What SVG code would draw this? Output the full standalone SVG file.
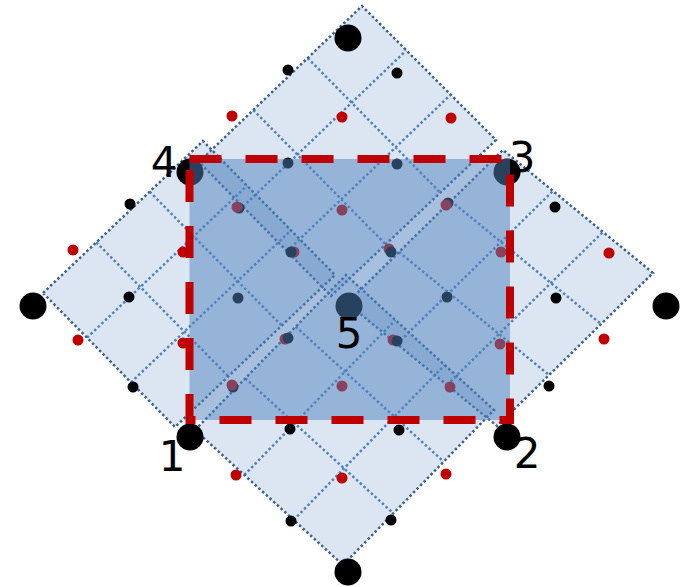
<svg xmlns="http://www.w3.org/2000/svg" width="688" height="587" viewBox="0 0 688 587">
<style>
.fill{fill:#4f81bd;fill-opacity:0.2;stroke:none}
.grid{fill:none;stroke:#4f81bd;stroke-width:2.5;stroke-dasharray:2.5 2.5}
.edge{fill:none;stroke:#3a6190;stroke-width:2.5;stroke-dasharray:2.5 2.5}
.big{fill:#000}
.blk{fill:#000}
.red{fill:#c00000}
.lbl{font-family:"DejaVu Sans",sans-serif;font-size:42px;fill:#000;text-anchor:middle}
</style>
<rect width="688" height="587" fill="#fff"/>
<g id="diamond-top">
<polygon class="fill" points="199,162 362,6 496,140 331,296"/>
<path class="grid" d="M253.33,110L385.33,244M307.67,58L439.67,192M243,206.67L406,50.67M287,251.33L450,95.33"/>
<polygon class="edge" points="199,162 362,6 496,140 331,296"/>
</g>
<g id="diamond-left">
<polygon class="fill" points="43,293 203,141 335,275 175,427"/>
<path class="grid" d="M96.33,242.33L228.33,376.33M149.67,191.67L281.67,325.67M87,337.67L247,185.67M131,382.33L291,230.33"/>
<polygon class="edge" points="43,293 203,141 335,275 175,427"/>
</g>
<g id="diamond-right">
<polygon class="fill" points="347,303 503,150 653,273 497,426"/>
<path class="grid" d="M399,252L549,375M451,201L601,324M397,344L553,191M447,385L603,232"/>
<polygon class="edge" points="347,303 503,150 653,273 497,426"/>
</g>
<g id="diamond-bottom">
<polygon class="fill" points="195,430 346,275 494,410 343,565"/>
<path class="grid" d="M245.33,378.33L393.33,513.33M295.67,326.67L443.67,461.67M244.33,475L395.33,320M293.67,520L444.67,365"/>
<polygon class="edge" points="195,430 346,275 494,410 343,565"/>
</g>
<g id="small-points">
<circle class="blk" cx="239" cy="208" r="5.5"/>
<circle class="blk" cx="448" cy="203" r="5.5"/>
<circle class="blk" cx="233" cy="387" r="5.5"/>
<circle class="red" cx="294" cy="252" r="5.5"/>
<circle class="red" cx="389" cy="249" r="5.5"/>
<circle class="red" cx="285" cy="339" r="5.5"/>
<circle class="red" cx="393" cy="340" r="5.5"/>
<circle class="red" cx="232" cy="116" r="5.5"/>
<circle class="red" cx="342" cy="117" r="5.5"/>
<circle class="red" cx="451" cy="118" r="5.5"/>
<circle class="red" cx="73" cy="250" r="5.5"/>
<circle class="red" cx="183" cy="252" r="5.5"/>
<circle class="red" cx="78" cy="340" r="5.5"/>
<circle class="red" cx="183" cy="343" r="5.5"/>
<circle class="red" cx="501" cy="252" r="5.5"/>
<circle class="red" cx="609" cy="253" r="5.5"/>
<circle class="red" cx="500" cy="344" r="5.5"/>
<circle class="red" cx="604" cy="339" r="5.5"/>
<circle class="red" cx="236" cy="475" r="5.5"/>
<circle class="red" cx="342" cy="478" r="5.5"/>
<circle class="red" cx="446" cy="474" r="5.5"/>
<circle class="red" cx="237" cy="207" r="5.5"/>
<circle class="red" cx="446" cy="205" r="5.5"/>
<circle class="red" cx="342" cy="210" r="5.5"/>
<circle class="red" cx="232" cy="385" r="5.5"/>
<circle class="red" cx="342" cy="386" r="5.5"/>
<circle class="red" cx="450" cy="387" r="5.5"/>
<circle class="blk" cx="288" cy="70" r="5.5"/>
<circle class="blk" cx="397" cy="73" r="5.5"/>
<circle class="blk" cx="130" cy="204" r="5.5"/>
<circle class="blk" cx="129" cy="297" r="5.5"/>
<circle class="blk" cx="133" cy="387" r="5.5"/>
<circle class="blk" cx="555" cy="207" r="5.5"/>
<circle class="blk" cx="556" cy="298" r="5.5"/>
<circle class="blk" cx="549" cy="386" r="5.5"/>
<circle class="blk" cx="290" cy="429" r="5.5"/>
<circle class="blk" cx="399" cy="430" r="5.5"/>
<circle class="blk" cx="291" cy="521" r="5.5"/>
<circle class="blk" cx="391" cy="520" r="5.5"/>
<circle class="blk" cx="288" cy="163" r="5.5"/>
<circle class="blk" cx="397" cy="164" r="5.5"/>
<circle class="blk" cx="238" cy="298" r="5.5"/>
<circle class="blk" cx="447" cy="297" r="5.5"/>
<circle class="blk" cx="291" cy="252" r="5.5"/>
<circle class="blk" cx="391" cy="252" r="5.5"/>
<circle class="blk" cx="288" cy="338" r="5.5"/>
<circle class="blk" cx="397" cy="341" r="5.5"/>
</g>
<g id="p-top"><circle class="big" cx="348" cy="38" r="13.5"/></g>
<g id="p-left"><circle class="big" cx="33" cy="306" r="13.5"/></g>
<g id="p-right"><circle class="big" cx="666" cy="306" r="13.5"/></g>
<g id="p-bottom"><circle class="big" cx="348" cy="572" r="13.5"/></g>
<g id="p4"><circle class="big" cx="190" cy="172" r="13.5"/></g>
<g id="p3"><circle class="big" cx="507" cy="172" r="13.5"/></g>
<g id="p1"><circle class="big" cx="190" cy="437" r="13.5"/></g>
<g id="p2"><circle class="big" cx="507" cy="437" r="13.5"/></g>
<g id="p5"><circle class="big" cx="349" cy="306" r="13.5"/></g>
<g id="square">
<rect x="189.5" y="159" width="320.5" height="261" fill="#4f81bd" fill-opacity="0.5"/>
<rect x="189.5" y="159" width="320.5" height="261" fill="none" stroke="#c00000" stroke-width="8" stroke-dasharray="32 24"/>
</g>
<g id="labels">
<text class="lbl" x="164" y="177">4</text>
<text class="lbl" x="522" y="172">3</text>
<text class="lbl" x="172" y="471">1</text>
<text class="lbl" x="527" y="468">2</text>
<text class="lbl" x="349" y="348">5</text>
</g>
</svg>
